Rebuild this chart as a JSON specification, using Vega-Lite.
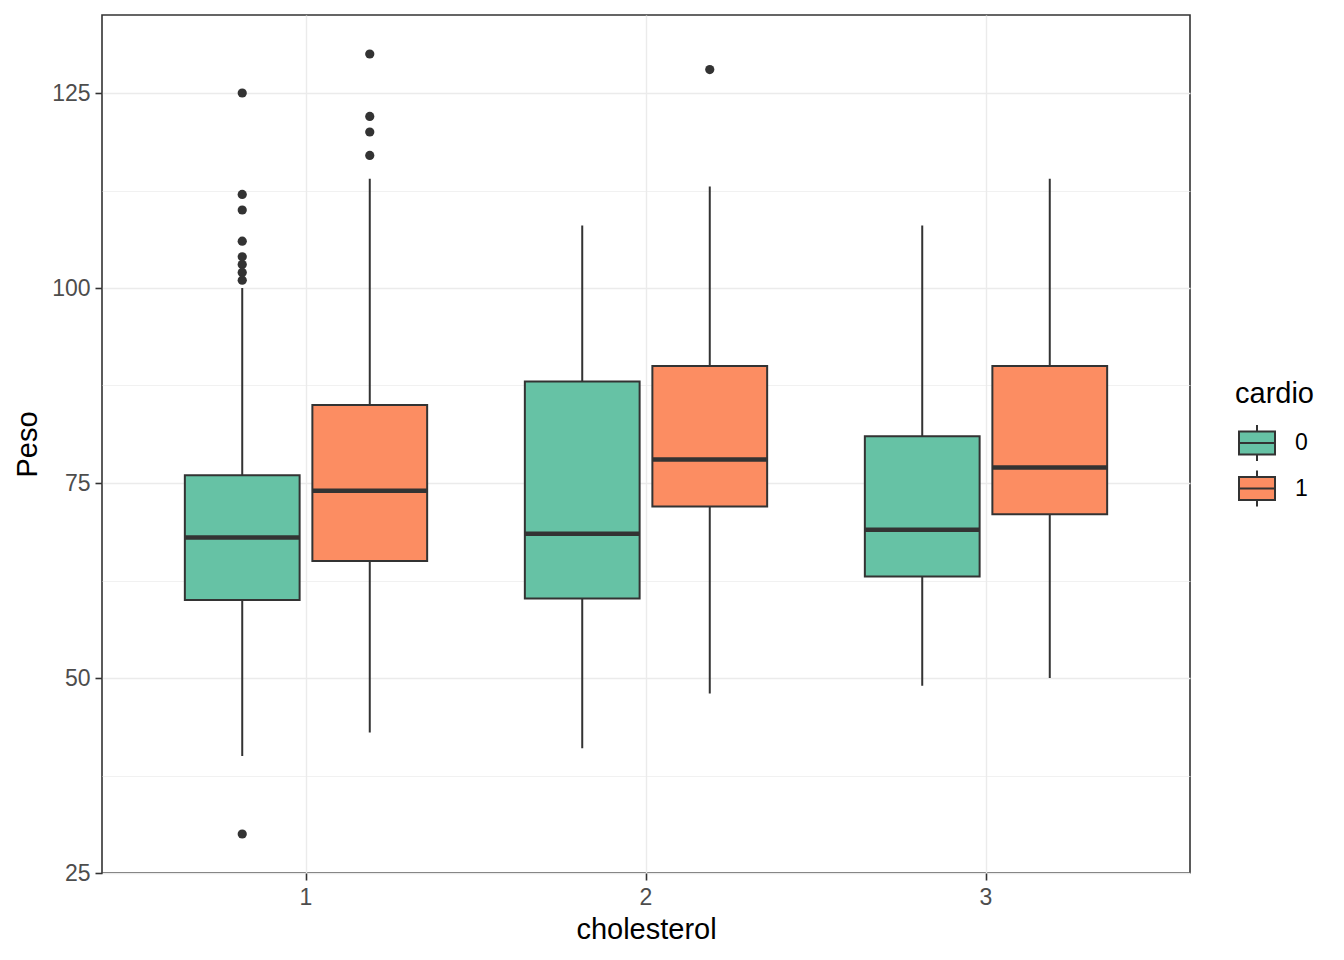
{
  "$schema": "https://vega.github.io/schema/vega-lite/v6.json",
  "width": 1088,
  "height": 858,
  "autosize": {"type": "none"},
  "padding": {"left": 102, "top": 15, "right": 154, "bottom": 87},
  "background": "white",
  "datasets": {
    "boxes": [
      {"cholesterol": "1", "cardio": "0", "lower": 40, "q1": 60, "median": 68, "q3": 76, "upper": 100},
      {"cholesterol": "1", "cardio": "1", "lower": 43, "q1": 65, "median": 74, "q3": 85, "upper": 114},
      {"cholesterol": "2", "cardio": "0", "lower": 41, "q1": 60.2, "median": 68.5, "q3": 88, "upper": 108},
      {"cholesterol": "2", "cardio": "1", "lower": 48, "q1": 72, "median": 78, "q3": 90, "upper": 113},
      {"cholesterol": "3", "cardio": "0", "lower": 49, "q1": 63, "median": 69, "q3": 81, "upper": 108},
      {"cholesterol": "3", "cardio": "1", "lower": 50, "q1": 71, "median": 77, "q3": 90, "upper": 114}
    ],
    "outliers": [
      {"cholesterol": "1", "cardio": "0", "peso": 125},
      {"cholesterol": "1", "cardio": "0", "peso": 112},
      {"cholesterol": "1", "cardio": "0", "peso": 110},
      {"cholesterol": "1", "cardio": "0", "peso": 106},
      {"cholesterol": "1", "cardio": "0", "peso": 104},
      {"cholesterol": "1", "cardio": "0", "peso": 103},
      {"cholesterol": "1", "cardio": "0", "peso": 102},
      {"cholesterol": "1", "cardio": "0", "peso": 101},
      {"cholesterol": "1", "cardio": "0", "peso": 30},
      {"cholesterol": "1", "cardio": "1", "peso": 130},
      {"cholesterol": "1", "cardio": "1", "peso": 122},
      {"cholesterol": "1", "cardio": "1", "peso": 120},
      {"cholesterol": "1", "cardio": "1", "peso": 117},
      {"cholesterol": "2", "cardio": "1", "peso": 128}
    ]
  },
  "encoding": {
    "x": {
      "field": "cholesterol",
      "type": "nominal",
      "title": "cholesterol",
      "scale": {"domain": ["1", "2", "3"], "paddingInner": 0, "paddingOuter": 0.1},
      "axis": {"labelAngle": 0, "bandPosition": 0.5, "gridWidth": 1.4, "labelPadding": 6, "titlePadding": 6}
    },
    "xOffset": {
      "field": "cardio",
      "type": "nominal",
      "scale": {"domain": ["0", "1"], "paddingInner": 0.1, "paddingOuter": 0.383}
    }
  },
  "layer": [
    {
      "data": {"name": "boxes"},
      "mark": {"type": "rule", "color": "#333333", "strokeWidth": 2},
      "encoding": {
        "y": {
          "field": "lower",
          "type": "quantitative",
          "title": "Peso",
          "scale": {"domain": [25, 135], "nice": false, "zero": false},
          "axis": {
            "values": [25, 37.5, 50, 62.5, 75, 87.5, 100, 112.5, 125],
            "labelExpr": "datum.value % 25 === 0 ? datum.label : ''",
            "gridWidth": {"condition": {"test": "datum.value % 25 === 0", "value": 1.4}, "value": 0.7},
            "tickOpacity": {"condition": {"test": "datum.value % 25 === 0", "value": 1}, "value": 0},
            "labelPadding": 5,
            "titlePadding": 9
          }
        },
        "y2": {"field": "upper"}
      }
    },
    {
      "data": {"name": "boxes"},
      "mark": {"type": "bar", "stroke": "#333333", "strokeWidth": 2},
      "encoding": {
        "y": {"field": "q1", "type": "quantitative", "title": "Peso"},
        "y2": {"field": "q3"},
        "fill": {
          "field": "cardio",
          "type": "nominal",
          "scale": {"domain": ["0", "1"], "range": ["#66C2A5", "#FC8D62"]},
          "legend": {
            "orient": "none",
            "legendX": 1133,
            "legendY": 365,
            "title": "cardio",
            "titleFontSize": 29,
            "titleFontWeight": "normal",
            "titleColor": "#000000",
            "titlePadding": 15,
            "labelFontSize": 23,
            "labelColor": "#000000",
            "labelOffset": 19,
            "symbolOffset": 3,
            "rowPadding": 1.5,
            "padding": 0,
            "symbolType": "M-1,-0.64H1V0.64H-1Z M-1,0H1 M0,-0.64V-1 M0,0.64V1",
            "symbolSize": 1296,
            "symbolStrokeColor": "#333333",
            "symbolStrokeWidth": 2,
            "symbolOpacity": 1
          }
        }
      }
    },
    {
      "data": {"name": "boxes"},
      "mark": {"type": "tick", "color": "#333333", "thickness": 4.5, "size": 115, "opacity": 1},
      "encoding": {
        "y": {"field": "median", "type": "quantitative", "title": "Peso"}
      }
    },
    {
      "data": {"name": "outliers"},
      "mark": {"type": "point", "filled": true, "color": "#333333", "size": 85, "opacity": 1},
      "encoding": {
        "y": {"field": "peso", "type": "quantitative", "title": "Peso"}
      }
    }
  ],
  "config": {
    "font": "Liberation Sans",
    "view": {"stroke": "#333333", "strokeWidth": 1.6},
    "axis": {
      "domain": false,
      "grid": true,
      "gridColor": "#EBEBEB",
      "labelColor": "#4D4D4D",
      "labelFontSize": 23,
      "labelFont": "Liberation Sans",
      "titleFont": "Liberation Sans",
      "titleFontSize": 29,
      "titleFontWeight": "normal",
      "titleColor": "#000000",
      "tickColor": "#333333",
      "tickSize": 7,
      "tickWidth": 1.6
    },
    "legend": {"labelFont": "Liberation Sans", "titleFont": "Liberation Sans"}
  }
}
